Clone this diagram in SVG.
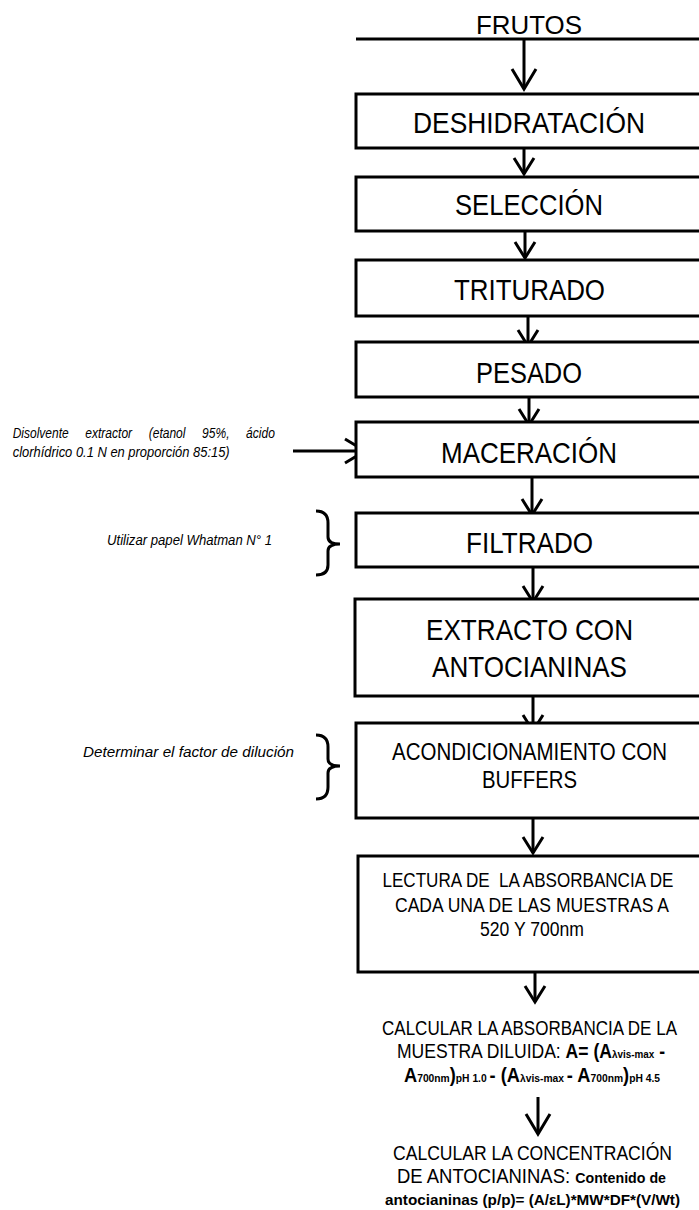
<svg xmlns="http://www.w3.org/2000/svg" width="699" height="1210" viewBox="0 0 699 1210">
<style>
.box{fill:#fff;stroke:#000;stroke-width:3}
.conn{stroke:#000;stroke-width:3;fill:none}
.t{font-family:"Liberation Sans",Arial,sans-serif;text-anchor:middle;fill:#000}
.big{font-size:29px}
.med{font-size:23px}
.sm{font-size:19.5px}
.note{font-family:"Liberation Sans",Arial,sans-serif;font-style:italic;font-size:14px;fill:#000}
.b{font-weight:bold}
.sub{font-size:11px;font-weight:bold}
</style>
<defs>
<marker id="arr" markerUnits="userSpaceOnUse" viewBox="-20 -14 24 28" markerWidth="24" markerHeight="28" refX="0" refY="0" orient="auto" overflow="visible">
<path d="M-16,-10 L0,0 L-16,10" fill="none" stroke="#000" stroke-width="3"/>
</marker>
<marker id="arrL" markerUnits="userSpaceOnUse" viewBox="-24 -16 28 32" markerWidth="28" markerHeight="32" refX="0" refY="0" orient="auto" overflow="visible">
<path d="M-20,-12 L0,0 L-20,12" fill="none" stroke="#000" stroke-width="3"/>
</marker>
</defs>

<g id="connectors">
<line class="conn" x1="356" y1="39" x2="710" y2="39"/>
<line class="conn" x1="524" y1="39" x2="524" y2="89" marker-end="url(#arrL)"/>
<line class="conn" x1="524" y1="148" x2="524" y2="174" marker-end="url(#arr)"/>
<line class="conn" x1="525" y1="231" x2="525" y2="258" marker-end="url(#arr)"/>
<line class="conn" x1="528" y1="316" x2="528" y2="346" marker-end="url(#arr)"/>
<line class="conn" x1="529" y1="397" x2="529" y2="425" marker-end="url(#arr)"/>
<line class="conn" x1="293" y1="451" x2="365" y2="451" marker-end="url(#arrL)"/>
<line class="conn" x1="532" y1="477" x2="532" y2="515" marker-end="url(#arr)"/>
<line class="conn" x1="533" y1="567" x2="533" y2="602" marker-end="url(#arr)"/>
<line class="conn" x1="533" y1="696" x2="533" y2="731" marker-end="url(#arr)"/>
<line class="conn" x1="533" y1="818" x2="533" y2="853" marker-end="url(#arr)"/>
<line class="conn" x1="535" y1="972" x2="535" y2="1002" marker-end="url(#arr)"/>
<line class="conn" x1="538" y1="1097" x2="538" y2="1134" marker-end="url(#arrL)"/>
<path class="conn" stroke-width="2.5" d="M316,511 Q328,511 328,523 L328,537 Q328,544 340,544 Q328,544 328,551 L328,565 Q328,575 316,575"/>
<path class="conn" stroke-width="2.5" d="M316,735 Q328,735 328,747 L328,759 Q328,766 340,766 Q328,766 328,773 L328,787 Q328,799 316,799"/>
</g>

<g id="n-frutos">
<text class="t" style="font-size:26px" x="529" y="34" textLength="106" lengthAdjust="spacingAndGlyphs">FRUTOS</text>
</g>
<g id="n-deshidratacion">
<rect class="box" x="356" y="94" width="360" height="54"/>
<text class="t big" x="529" y="133" textLength="232" lengthAdjust="spacingAndGlyphs">DESHIDRATACIÓN</text>
</g>
<g id="n-seleccion">
<rect class="box" x="356" y="177" width="360" height="54"/>
<text class="t big" x="529" y="215" textLength="148" lengthAdjust="spacingAndGlyphs">SELECCIÓN</text>
</g>
<g id="n-triturado">
<rect class="box" x="356" y="260" width="360" height="56"/>
<text class="t big" x="529.5" y="300" textLength="151" lengthAdjust="spacingAndGlyphs">TRITURADO</text>
</g>
<g id="n-pesado">
<rect class="box" x="356" y="342" width="360" height="55"/>
<text class="t big" x="529" y="383" textLength="106" lengthAdjust="spacingAndGlyphs">PESADO</text>
</g>
<g id="n-maceracion">
<rect class="box" x="356" y="422" width="360" height="55"/>
<text class="t big" x="529" y="463" textLength="176" lengthAdjust="spacingAndGlyphs">MACERACIÓN</text>
</g>
<g id="n-filtrado">
<rect class="box" x="356" y="513" width="360" height="54"/>
<text class="t big" x="529.5" y="553" textLength="127" lengthAdjust="spacingAndGlyphs">FILTRADO</text>
</g>
<g id="n-extracto">
<rect class="box" x="355" y="599" width="360" height="97"/>
<text class="t big" x="529.5" y="640" textLength="207" lengthAdjust="spacingAndGlyphs">EXTRACTO CON</text>
<text class="t big" x="529.5" y="677" textLength="195" lengthAdjust="spacingAndGlyphs">ANTOCIANINAS</text>
</g>
<g id="n-acondicionamiento">
<rect class="box" x="356" y="723" width="360" height="95"/>
<text class="t med" x="529.5" y="760" textLength="275" lengthAdjust="spacingAndGlyphs">ACONDICIONAMIENTO CON</text>
<text class="t med" x="529.5" y="788" textLength="95" lengthAdjust="spacingAndGlyphs">BUFFERS</text>
</g>
<g id="n-lectura">
<rect class="box" x="358" y="856" width="360" height="116"/>
<text class="t sm" x="528" y="887" textLength="291" lengthAdjust="spacingAndGlyphs" xml:space="preserve">LECTURA DE  LA ABSORBANCIA DE</text>
<text class="t sm" x="532" y="912" textLength="274" lengthAdjust="spacingAndGlyphs">CADA UNA DE LAS MUESTRAS A</text>
<text class="t sm" x="532" y="936" textLength="104" lengthAdjust="spacingAndGlyphs">520 Y 700nm</text>
</g>
<g id="n-calcular-absorbancia">
<text class="t sm" x="529.5" y="1035" textLength="295" lengthAdjust="spacingAndGlyphs">CALCULAR LA ABSORBANCIA DE LA</text>
<text class="t sm" x="531" y="1058" textLength="268" lengthAdjust="spacingAndGlyphs">MUESTRA DILUIDA: <tspan class="b">A= (A</tspan><tspan class="sub">λvis-max</tspan><tspan class="b"> -</tspan></text>
<text class="t sm" x="532" y="1082" textLength="256" lengthAdjust="spacingAndGlyphs"><tspan class="b">A</tspan><tspan class="sub">700nm</tspan><tspan class="b">)</tspan><tspan class="sub">pH  1.0 </tspan><tspan class="b">- (A</tspan><tspan class="sub">λvis-max </tspan><tspan class="b">- A</tspan><tspan class="sub">700nm</tspan><tspan class="b">)</tspan><tspan class="sub">pH  4.5</tspan></text>
</g>
<g id="n-calcular-concentracion">
<text class="t sm" x="532.5" y="1160" textLength="279" lengthAdjust="spacingAndGlyphs">CALCULAR LA CONCENTRACIÓN</text>
<text class="t sm" x="531.5" y="1183" textLength="269" lengthAdjust="spacingAndGlyphs">DE ANTOCIANINAS: <tspan class="b" style="font-size:15px">Contenido de</tspan></text>
<text class="t b" style="font-size:15px" x="532.5" y="1205" textLength="295" lengthAdjust="spacingAndGlyphs">antocianinas (p/p)= (A/εL)*MW*DF*(V/Wt)</text>
</g>

<g id="note-disolvente">
<text class="note" y="438"><tspan x="12.7" textLength="56" lengthAdjust="spacingAndGlyphs">Disolvente</tspan><tspan x="85.3" textLength="46.8" lengthAdjust="spacingAndGlyphs">extractor</tspan><tspan x="148.7" textLength="36.8" lengthAdjust="spacingAndGlyphs">(etanol</tspan><tspan x="202.1" textLength="27.4" lengthAdjust="spacingAndGlyphs">95%,</tspan><tspan x="246.1" textLength="28.8" lengthAdjust="spacingAndGlyphs">ácido</tspan></text>
<text class="note" x="12.7" y="457" textLength="217" lengthAdjust="spacingAndGlyphs">clorhídrico 0.1 N en proporción 85:15)</text>
</g>
<g id="note-whatman">
<text class="note" x="107" y="545" textLength="165" lengthAdjust="spacingAndGlyphs">Utilizar papel Whatman N° 1</text>
</g>
<g id="note-dilucion">
<text class="note" x="83" y="757" textLength="211" lengthAdjust="spacingAndGlyphs">Determinar el factor de dilución</text>
</g>
</svg>
